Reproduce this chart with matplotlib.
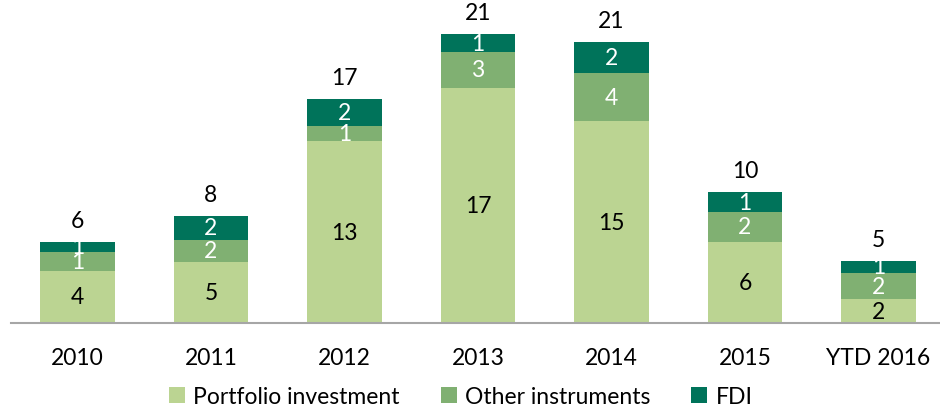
import numpy as np
import matplotlib.pyplot as plt

plt.rcParams['font.family'] = ['Lato', 'DejaVu Sans']

years = ["2010", "2011", "2012", "2013", "2014", "2015", "YTD 2016"]
portfolio = [3.87, 4.52, 13.45, 17.41, 14.96, 6.02, 1.76]
other = [1.39, 1.65, 1.15, 2.67, 3.56, 2.20, 1.95]
fdi = [0.74, 1.76, 2.00, 1.31, 2.27, 1.46, 0.89]

c_port = '#BBD492'
c_other = '#80B072'
c_fdi = '#00735A'

fig = plt.figure(figsize=(9.4, 4.06), dpi=100)
ax = fig.add_axes([10.75 / 940, 82 / 406, 934.5 / 940, 297 / 406])

x = np.arange(len(years))
w = 0.56
p = np.array(portfolio)
o = np.array(other)
f = np.array(fdi)

ax.bar(x, p, w, color=c_port, label='Portfolio investment')
ax.bar(x, o, w, bottom=p, color=c_other, label='Other instruments')
ax.bar(x, f, w, bottom=p + o, color=c_fdi, label='FDI')

fs = 16.5
for i in range(len(years)):
    ax.text(x[i], p[i] / 2, f"{p[i]:.0f}", ha='center', va='center',
            fontsize=fs, color='black')
    ax.text(x[i], p[i] + o[i] / 2, f"{o[i]:.0f}", ha='center', va='center',
            fontsize=fs, color='white')
    ax.text(x[i], p[i] + o[i] + f[i] / 2, f"{f[i]:.0f}", ha='center',
            va='center', fontsize=fs, color='white')
    total = p[i] + o[i] + f[i]
    ax.text(x[i], total + 1.62, f"{total:.0f}", ha='center', va='center',
            fontsize=fs, color='black', clip_on=False)

ax.set_xlim(-0.5, 6.5)
ax.set_ylim(0, 22)
ax.set_xticks(x)
ax.set_xticklabels(years, fontsize=fs)
ax.tick_params(axis='x', length=0, pad=17)
ax.set_yticks([])
for s in ['top', 'right', 'left']:
    ax.spines[s].set_visible(False)
ax.spines['bottom'].set_color('#A6A6A6')
ax.spines['bottom'].set_linewidth(1.5)

fig.legend(loc='center', bbox_to_anchor=(0.49, 0.022), ncol=3, frameon=False,
           fontsize=fs, handlelength=0.7, handleheight=0.7, handletextpad=0.35,
           columnspacing=1.8)

fig.savefig('out.png', dpi=100)
